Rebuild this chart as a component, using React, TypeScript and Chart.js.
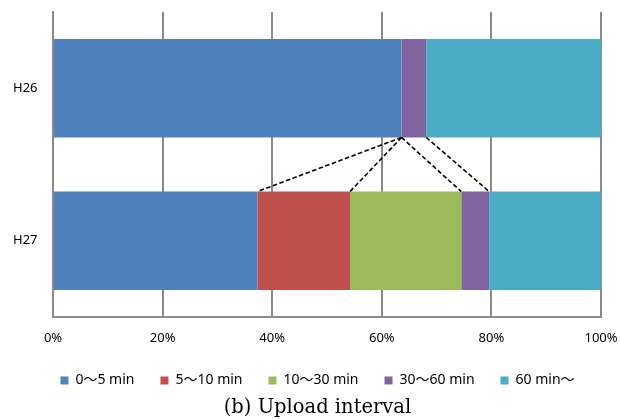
import React, { useEffect, useRef } from 'react';
import { Chart, registerables } from 'chart.js';

Chart.register(...registerables);

// ---- data ----
const categories = ['H26', 'H27'];
const seriesNames = ['0〜5 min', '5〜10 min', '10〜30 min', '30〜60 min', '60 min〜'];
const s0to5 = [63.6, 37.3];
const s5to10 = [0, 16.9];
const s10to30 = [0, 20.3];
const s30to60 = [4.5, 5.1];
const s60plus = [31.9, 20.4];
const xTickValues = [0, 20, 40, 60, 80, 100];
// connectors: [number of H26 segments before point, number of H27 segments before point]
const connectors = [[1, 1], [1, 2], [1, 3], [4, 4]];
const caption = '(b) Upload interval';

const seriesValues = [s0to5, s5to10, s10to30, s30to60, s60plus];
const colors = ['#4F81BD', '#C0504D', '#9BBB59', '#8064A2', '#4BACC6'];
const gridColor = '#8a8a8a';
const sansFont = "'Noto Sans', 'Noto Sans CJK JP', sans-serif";

const connectorPlugin = {
  id: 'connectorLines',
  afterDatasetsDraw(chart: any) {
    const ctx = chart.ctx;
    const xs = chart.scales.x;
    const meta = chart.getDatasetMeta(0);
    const b0 = meta.data[0];
    const b1 = meta.data[1];
    if (!b0 || !b1) return;
    const y0 = b0.y + b0.height / 2;
    const y1 = b1.y - b1.height / 2;
    const cum = (row: number, k: number) =>
      seriesValues.slice(0, k).reduce((a, s) => a + s[row], 0);
    ctx.save();
    ctx.setLineDash([4.5, 2.5]);
    ctx.lineWidth = 1.6;
    ctx.strokeStyle = '#000';
    connectors.forEach(([a, b]) => {
      ctx.beginPath();
      ctx.moveTo(xs.getPixelForValue(cum(0, a)), y0);
      ctx.lineTo(xs.getPixelForValue(cum(1, b)), y1);
      ctx.stroke();
    });
    ctx.restore();
  },
};

export default function App() {
  const canvasRef = useRef<HTMLCanvasElement | null>(null);

  useEffect(() => {
    const canvas = canvasRef.current;
    if (!canvas) return;
    const chart = new Chart(canvas, {
      type: 'bar',
      data: {
        labels: categories,
        datasets: seriesValues.map((vals, i) => ({
          label: seriesNames[i],
          data: vals,
          backgroundColor: colors[i],
          borderWidth: 0,
          barPercentage: 0.645,
          categoryPercentage: 1,
        })),
      },
      options: {
        indexAxis: 'y',
        responsive: false,
        animation: false,
        devicePixelRatio: 1,
        layout: { padding: { left: 34, right: 19, top: 12, bottom: 0 } },
        scales: {
          x: {
            stacked: true,
            min: 0,
            max: 100,
            afterBuildTicks: (scale: any) => {
              scale.ticks = xTickValues.map((v) => ({ value: v }));
            },
            afterFit: (scale: any) => {
              scale.height = 30.5;
              scale.paddingLeft = 0;
              scale.paddingRight = 0;
            },
            ticks: {
              callback: (v: any) => v + '%',
              font: { family: sansFont, size: 13 },
              color: '#000',
              padding: 13,
              maxRotation: 0,
            },
            grid: { color: gridColor, lineWidth: 2, drawTicks: false },
            border: { display: true, color: gridColor, width: 2 },
          },
          y: {
            stacked: true,
            afterFit: (scale: any) => {
              scale.width = 19;
              scale.paddingTop = 0;
              scale.paddingBottom = 0;
            },
            ticks: {
              mirror: true,
              font: { family: sansFont, size: 13 },
              color: '#000',
              padding: -40,
            },
            grid: { display: false, drawTicks: false },
            border: { display: true, color: gridColor, width: 2 },
          },
        },
        plugins: {
          legend: {
            position: 'bottom',
            labels: {
              boxWidth: 8,
              boxHeight: 8,
              padding: 26,
              color: '#000',
              font: { family: sansFont, size: 14 },
            },
          },
          title: {
            display: true,
            position: 'bottom',
            text: caption,
            color: '#000',
            font: { family: "'DejaVu Serif', serif", size: 19.5, weight: 'normal', lineHeight: 1 },
            padding: { top: 1, bottom: 1 },
          },
          tooltip: { enabled: false },
        },
      },
      plugins: [connectorPlugin],
    } as any);
    return () => chart.destroy();
  }, []);

  return (
    <div style={{ position: 'absolute', left: 0, top: 0, width: 620, height: 419, background: '#fff' }}>
      <canvas ref={canvasRef} width={620} height={419} style={{ display: 'block' }} />
    </div>
  );
}
